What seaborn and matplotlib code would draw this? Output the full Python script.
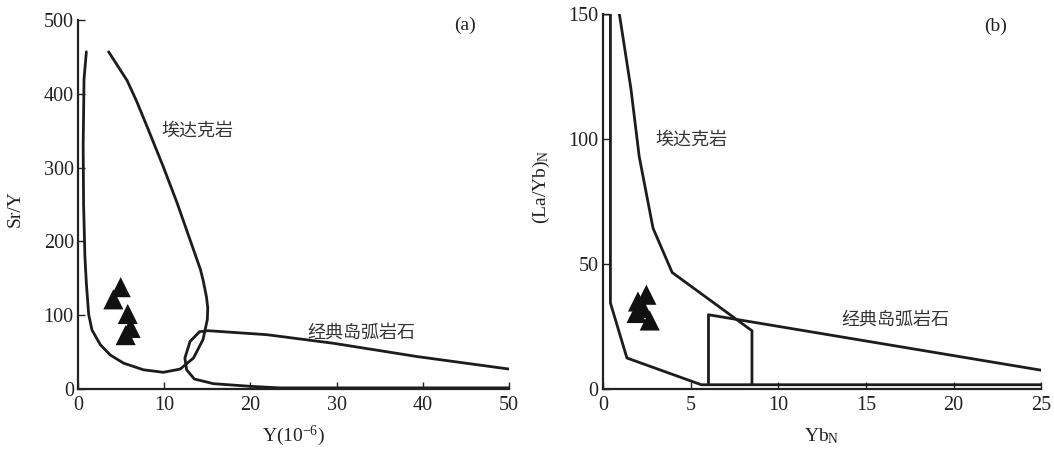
import matplotlib
matplotlib.use('Agg')
import matplotlib.pyplot as plt
import seaborn as sns
import pandas as pd

# (a) Sr/Y - Y: adakite field (open curve), classic island arc field
adakite_a_x = [0.97, 0.7, 0.6, 0.65, 0.8, 0.97, 1.24, 1.62, 2.59, 3.75, 5.29, 7.6, 9.9,
               11.85, 13.4, 14.5, 15.0, 15.05, 14.9, 14.5, 14.2, 13.0, 11.5, 9.9, 8.0, 6.8, 5.7, 3.55]
adakite_a_y = [457, 420, 330, 250, 180, 143, 101, 80, 60, 46, 35, 26, 22.6,
               27, 42, 67, 94, 110, 125, 148, 162, 202, 252, 301, 356, 390, 418, 457]
arc_a_x = [50, 39.3, 29.6, 21.9, 15.1, 14.1, 13.0, 12.4, 12.6, 13.5, 15.7, 20.0, 23.4, 50]
arc_a_y = [27, 44, 62, 73.6, 79, 77.6, 64.5, 42, 26, 13.5, 7.2, 3.6, 1.5, 1.5]
samples_a_y_ppm = [4.95, 4.1, 5.77, 6.1, 5.53]
samples_a_sr_y = [138, 121.5, 101.6, 82.7, 73]

# (b) (La/Yb)N - YbN
adakite_b_left_x = [0, 0.43, 0.43, 1.37, 5.61, 25]
adakite_b_left_y = [150, 150, 34.4, 12.4, 1.7, 1.7]
adakite_b_upper_x = [0.94, 1.6, 2.07, 2.86, 3.95, 8.5, 8.5]
adakite_b_upper_y = [150, 120, 93, 64.3, 46.6, 23.3, 1.7]
arc_b_x = [6.02, 6.02, 25]
arc_b_y = [1.7, 29.7, 7.5]
samples_b_ybn = [2.48, 2.0, 1.92, 2.67, 2.26]
samples_b_layb = [37.7, 35, 30.4, 27.4, 32.4]

sns.set_style('ticks')
plt.rcParams['font.family'] = ['Liberation Serif', 'Noto Sans CJK SC']
plt.rcParams['mathtext.fontset'] = 'custom'
plt.rcParams['mathtext.rm'] = 'Liberation Serif'
plt.rcParams['mathtext.default'] = 'regular'

fig = plt.figure(figsize=(10.54, 4.51), dpi=100)
ax1 = fig.add_axes([0.074, 0.1375, 0.409, 0.818])
ax2 = fig.add_axes([0.572, 0.1375, 0.416, 0.8315])

LINE = '#1c1c1c'
LW = 2.0
TXT = '#222222'
cjk = ['Noto Sans CJK SC', 'DejaVu Sans']


def field(ax, xs, ys):
    df = pd.DataFrame({'x': xs, 'y': ys})
    sns.lineplot(data=df, x='x', y='y', sort=False, estimator=None,
                 color=LINE, lw=LW, ax=ax)


def samples(ax, xs, ys):
    sns.scatterplot(x=xs, y=ys, marker='^', s=210, color='#111111',
                    edgecolor='none', ax=ax, zorder=5)


def style_axes(ax):
    for side in ['top', 'right']:
        ax.spines[side].set_visible(False)
    for side in ['left', 'bottom']:
        ax.spines[side].set_linewidth(1.6)
        ax.spines[side].set_color(TXT)
    ax.tick_params(direction='in', length=5, width=1.0, labelsize=14.5,
                   colors=TXT, pad=5)
    ax.tick_params(axis='y', pad=3)


# --- panel (a)
field(ax1, adakite_a_x, adakite_a_y)
field(ax1, arc_a_x, arc_a_y)
samples(ax1, samples_a_y_ppm, samples_a_sr_y)
ax1.set_xlim(0, 50)
ax1.set_ylim(0, 500)
ax1.set_xticks([0, 10, 20, 30, 40, 50])
ax1.set_yticks([0, 100, 200, 300, 400, 500])
ax1.set_xlabel(r'Y(10$^{-6}$)', fontsize=14, color=TXT)
ax1.set_ylabel('Sr/Y', fontsize=14, color=TXT)
ax1.xaxis.set_label_coords(0.5, -0.095)
ax1.yaxis.set_label_coords(-0.125, 0.49)
ax1.text(9.7, 350, '埃达克岩', family=cjk, fontsize=13, color='#333333', va='center')
ax1.text(26.6, 77, '经典岛弧岩石', family=cjk, fontsize=13, color='#333333', va='center')
ax1.text(44.9, 493, '(a)', fontsize=14, color=TXT, ha='center', va='center')
style_axes(ax1)

# --- panel (b)
field(ax2, adakite_b_left_x, adakite_b_left_y)
field(ax2, adakite_b_upper_x, adakite_b_upper_y)
field(ax2, arc_b_x, arc_b_y)
samples(ax2, samples_b_ybn, samples_b_layb)
ax2.set_xlim(0, 25)
ax2.set_ylim(0, 150)
ax2.set_xticks([0, 5, 10, 15, 20, 25])
ax2.set_yticks([0, 50, 100, 150])
ax2.set_xlabel(r'Yb$_{N}$', fontsize=14, color=TXT)
ax2.set_ylabel(r'(La/Yb)$_{N}$', fontsize=14, color=TXT)
ax2.xaxis.set_label_coords(0.5, -0.1)
ax2.yaxis.set_label_coords(-0.115, 0.54)
ax2.text(3.0, 99.6, '埃达克岩', family=cjk, fontsize=13, color='#333333', va='center')
ax2.text(13.6, 27.6, '经典岛弧岩石', family=cjk, fontsize=13, color='#333333', va='center')
ax2.text(22.4, 145, '(b)', fontsize=14, color=TXT, ha='center', va='center')
style_axes(ax2)

fig.savefig('out.png', dpi=100)
plt.close(fig)
